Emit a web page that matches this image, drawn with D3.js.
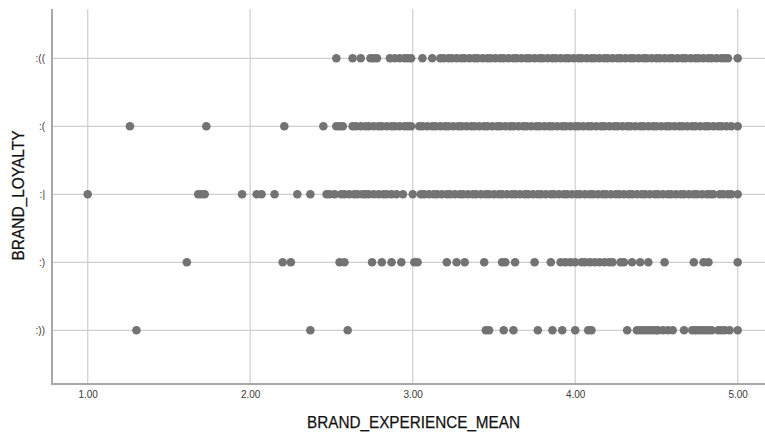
<!DOCTYPE html>
<html>
<head>
<meta charset="utf-8">
<script src="https://cdn.jsdelivr.net/npm/d3@7"></script>
<style>
  html, body { margin: 0; padding: 0; background: #fff; }
  svg { display: block; font-family: "Liberation Sans", Arial, sans-serif; }
</style>
</head>
<body>
<svg id="chart" width="765" height="432"></svg>
<script>
// Loyalty categories, top to bottom
const categories = [":((", ":(", ":|", ":)", ":))"];

// X axis ticks
const xTicks = [1, 2, 3, 4, 5];
const xTickLabels = ["1.00", "2.00", "3.00", "4.00", "5.00"];

// BRAND_EXPERIENCE_MEAN observations per loyalty category
const expVeryLow = [
  2.53, 2.63, 2.68, 2.74, 2.76, 2.78, 2.86, 2.89, 2.92, 2.95, 2.97, 2.99, 3.06, 3.12,
  3.17, 3.19, 3.22, 3.24, 3.27, 3.30, 3.32, 3.35, 3.38, 3.40, 3.43, 3.46, 3.48, 3.51,
  3.54, 3.56, 3.59, 3.62, 3.64, 3.67, 3.70, 3.72, 3.75, 3.78, 3.80, 3.83, 3.86, 3.88,
  3.91, 3.94, 3.96, 3.99, 4.02, 4.04, 4.07, 4.10, 4.12, 4.15, 4.18, 4.20, 4.23, 4.26,
  4.28, 4.31, 4.34, 4.36, 4.39, 4.42, 4.44, 4.47, 4.50, 4.52, 4.55, 4.58, 4.60, 4.63,
  4.66, 4.68, 4.71, 4.74, 4.76, 4.79, 4.82, 4.84, 4.87, 4.90, 4.92, 4.94, 5.00
];
const expLow = [
  1.26, 1.73, 2.21, 2.45, 2.53, 2.55, 2.57,
  2.63, 2.65, 2.68, 2.71, 2.73, 2.76, 2.79, 2.81, 2.84, 2.87, 2.89, 2.92, 2.95, 2.97,
  2.99, 3.04, 3.06, 3.09, 3.12, 3.14, 3.17, 3.20, 3.22, 3.25, 3.28, 3.30, 3.33, 3.36,
  3.38, 3.41, 3.44, 3.46, 3.49, 3.52, 3.54, 3.57, 3.60, 3.62, 3.65, 3.68, 3.70, 3.73,
  3.76, 3.78, 3.81, 3.84, 3.86, 3.89, 3.92, 3.94, 3.97, 4.00, 4.02, 4.05, 4.08, 4.10,
  4.13, 4.16, 4.18, 4.21, 4.24, 4.26, 4.29, 4.32, 4.34, 4.37, 4.40, 4.42, 4.45, 4.48,
  4.50, 4.53, 4.56, 4.58, 4.61, 4.64, 4.66, 4.69, 4.72, 4.74, 4.77, 4.80, 4.82, 4.85,
  4.88, 4.90, 4.93, 4.96, 5.00
];
const expNeutral = [
  1.00, 1.68, 1.70, 1.72, 1.95, 2.04, 2.07, 2.15, 2.29, 2.37, 2.47, 2.49, 2.52,
  2.56, 2.58, 2.61, 2.64, 2.66, 2.69, 2.71, 2.73, 2.76, 2.79, 2.82, 2.84, 2.87, 2.90,
  2.94, 3.00, 3.05, 3.07, 3.10, 3.13, 3.15, 3.18, 3.21, 3.23, 3.26, 3.29, 3.31, 3.34,
  3.37, 3.39, 3.42, 3.45, 3.47, 3.50, 3.53, 3.55, 3.58, 3.61, 3.63, 3.66, 3.69, 3.71,
  3.74, 3.77, 3.79, 3.82, 3.85, 3.87, 3.90, 3.93, 3.95, 3.98, 4.01, 4.03, 4.06, 4.09,
  4.11, 4.14, 4.17, 4.19, 4.22, 4.25, 4.27, 4.30, 4.33, 4.35, 4.38, 4.41, 4.43, 4.46,
  4.49, 4.51, 4.54, 4.57, 4.59, 4.62, 4.65, 4.67, 4.70, 4.73, 4.75, 4.78, 4.81, 4.83,
  4.85, 4.89, 4.91, 4.94, 4.96, 5.00
];
const expHigh = [
  1.61, 2.20, 2.25, 2.55, 2.58, 2.75, 2.81, 2.87, 2.93, 3.01, 3.03, 3.21, 3.27, 3.32,
  3.44, 3.55, 3.57, 3.63, 3.75, 3.85, 3.91, 3.94, 3.97, 4.00, 4.04, 4.06, 4.09, 4.12,
  4.15, 4.18, 4.21, 4.23, 4.28, 4.30, 4.35, 4.40, 4.45, 4.55, 4.73, 4.79, 4.82, 5.00
];
const expVeryHigh = [
  1.30, 2.37, 2.60, 3.45, 3.47, 3.56, 3.62, 3.77, 3.86, 3.92, 4.00, 4.08, 4.10, 4.32,
  4.38, 4.40, 4.42, 4.44, 4.46, 4.48, 4.50, 4.51, 4.54, 4.57, 4.60, 4.67,
  4.72, 4.74, 4.76, 4.78, 4.80, 4.82, 4.84, 4.88, 4.90, 4.92, 4.95, 5.00
];

const seriesByCategory = [expVeryLow, expLow, expNeutral, expHigh, expVeryHigh];

const frame = { left: 52, right: 765, top: 9, bottom: 384 };

const svg = d3.select("#chart");

const x = d3.scaleLinear().domain([1, 5]).range([87.7, 737.7]);
const y = d3.scalePoint().domain(categories).range([58.3, 330.3]);

// Vertical grid lines at the x ticks
svg.append("g")
  .selectAll("line")
  .data(xTicks)
  .join("line")
  .attr("x1", d => x(d)).attr("x2", d => x(d))
  .attr("y1", frame.top).attr("y2", frame.bottom)
  .attr("stroke", "#d2d2d2").attr("stroke-width", 1.3);

// Horizontal grid lines at each category
svg.append("g")
  .selectAll("line")
  .data(categories)
  .join("line")
  .attr("x1", frame.left).attr("x2", frame.right)
  .attr("y1", d => y(d)).attr("y2", d => y(d))
  .attr("stroke", "#cfcfcf").attr("stroke-width", 1.3);

// Points
const points = [];
seriesByCategory.forEach((vals, i) => vals.forEach(v => points.push({ cat: categories[i], v })));

svg.append("g")
  .selectAll("circle")
  .data(points)
  .join("circle")
  .attr("cx", d => x(d.v))
  .attr("cy", d => y(d.cat))
  .attr("r", 4.3)
  .attr("fill", "#737373");

// Axis frame lines
svg.append("line")
  .attr("x1", frame.left).attr("x2", frame.left)
  .attr("y1", frame.top).attr("y2", frame.bottom)
  .attr("stroke", "#a8a8a8").attr("stroke-width", 2);
svg.append("line")
  .attr("x1", frame.left - 1).attr("x2", frame.right)
  .attr("y1", frame.bottom).attr("y2", frame.bottom)
  .attr("stroke", "#a8a8a8").attr("stroke-width", 2);

// X tick labels
const xAxis = d3.axisBottom(x)
  .tickValues(xTicks)
  .tickFormat((d, i) => xTickLabels[i])
  .tickSize(0)
  .tickPadding(7);
const gx = svg.append("g")
  .attr("transform", `translate(0,${frame.bottom})`)
  .call(xAxis);
gx.select(".domain").remove();
gx.selectAll("text")
  .attr("font-family", "'Liberation Sans', Arial, sans-serif")
  .attr("font-size", 10).attr("fill", "#3a3a3a");

// Y tick labels
const yAxis = d3.axisLeft(y).tickSize(0).tickPadding(7);
const gy = svg.append("g")
  .attr("transform", `translate(${frame.left},0)`)
  .call(yAxis);
gy.select(".domain").remove();
gy.selectAll("text")
  .attr("font-family", "'Liberation Sans', Arial, sans-serif")
  .attr("font-size", 10).attr("fill", "#3a3a3a");

// Axis titles
svg.append("text")
  .attr("x", 413.5).attr("y", 428)
  .attr("text-anchor", "middle")
  .attr("font-size", 16.5)
  .attr("textLength", 213).attr("lengthAdjust", "spacingAndGlyphs")
  .attr("fill", "#111").attr("stroke", "#111").attr("stroke-width", 0.25)
  .text("BRAND_EXPERIENCE_MEAN");

svg.append("text")
  .attr("transform", "translate(24,195.5) rotate(-90)")
  .attr("text-anchor", "middle")
  .attr("font-size", 16.5)
  .attr("textLength", 130).attr("lengthAdjust", "spacingAndGlyphs")
  .attr("fill", "#111").attr("stroke", "#111").attr("stroke-width", 0.25)
  .text("BRAND_LOYALTY");
</script>
</body>
</html>
